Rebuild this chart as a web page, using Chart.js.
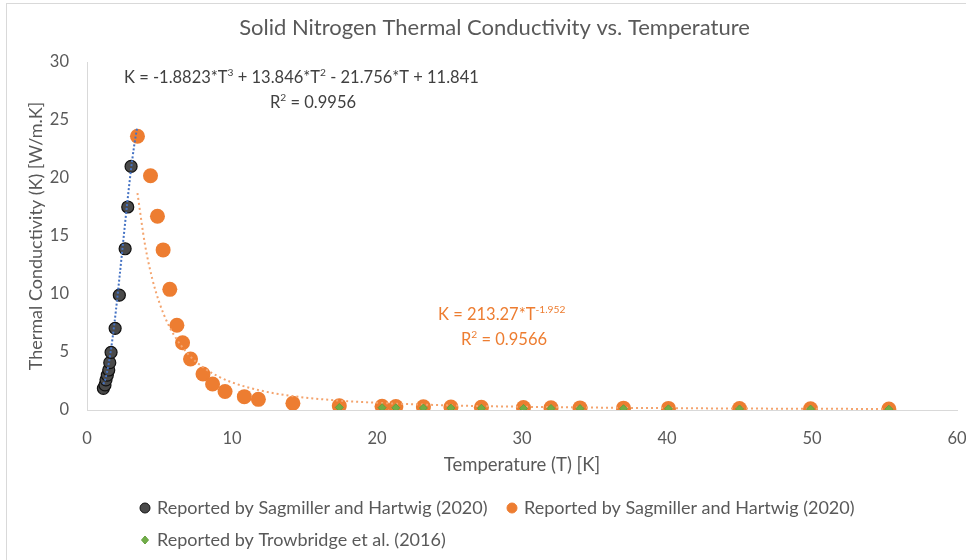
<!DOCTYPE html>
<html lang="en">
<head>
    <meta charset="UTF-8">
    <title>Solid Nitrogen Thermal Conductivity</title>
    <script src="https://cdn.jsdelivr.net/npm/chart.js"></script>
    <style>
        html, body { margin: 0; padding: 0; background: #fff; }
        #box { width: 966px; height: 560px; position: relative; }
    </style>
</head>
<body>
    <div id="box"><canvas id="kChart"></canvas></div>
    <script>
        // Sagmiller and Hartwig (2020), low temperature branch
        const darkT = [1.13, 1.24, 1.31, 1.40, 1.50, 1.57, 1.66, 1.94, 2.23, 2.63, 2.81, 3.04];
        const darkK = [1.87, 2.16, 2.6, 3.0, 3.45, 4.08, 4.97, 7.04, 9.9, 13.9, 17.5, 21.0];

        // Sagmiller and Hartwig (2020), high temperature branch
        const orangeT = [3.48, 4.38, 4.86, 5.25, 5.71, 6.2, 6.59, 7.14, 8.0, 8.66, 9.52, 10.85, 11.82, 14.2,
                         17.4, 20.35, 21.3, 23.2, 25.1, 27.2, 30.1, 32.0, 34.0, 37.0, 40.1, 45.0, 49.9, 55.3];
        const orangeK = [23.6, 20.2, 16.7, 13.8, 10.4, 7.3, 5.8, 4.4, 3.1, 2.24, 1.6, 1.15, 0.92, 0.58,
                         0.36, 0.32, 0.30, 0.27, 0.26, 0.24, 0.21, 0.19, 0.18, 0.16, 0.14, 0.12, 0.11, 0.09];

        // Trowbridge et al. (2016)
        const greenT = [17.4, 20.35, 21.3, 23.2, 25.1, 27.2, 30.1, 32.0, 34.0, 37.0, 40.1, 45.0, 49.9, 55.3];
        const greenK = [0.22, 0.2, 0.19, 0.17, 0.16, 0.15, 0.14, 0.13, 0.12, 0.11, 0.1, 0.09, 0.08, 0.07];

        // trendline curves (polynomial and power fits)
        const polyT = [1.13, 1.25, 1.5, 1.75, 2.0, 2.25, 2.5, 2.75, 3.0, 3.25, 3.46];
        const polyK = [2.22, 2.6, 4.01, 6.08, 8.65, 11.55, 14.58, 17.57, 20.36, 22.76, 24.36];
        const powT = [3.48, 4.0, 4.5, 5.0, 5.5, 6.0, 7.0, 8.0, 9.0, 10.0, 12.0, 14.0, 17.0, 20.0, 25.0, 30.0, 40.0, 55.3];
        const powK = [18.7, 14.25, 11.32, 9.22, 7.65, 6.46, 4.78, 3.68, 2.93, 2.38, 1.67, 1.23, 0.845, 0.62, 0.40, 0.28, 0.16, 0.085];

        const xTicks = [0, 10, 20, 30, 40, 50, 60];
        const yTicks = [0, 5, 10, 15, 20, 25, 30];

        const labels = [
            'Reported by Sagmiller and Hartwig (2020)',
            'Reported by Sagmiller and Hartwig (2020)',
            'Reported by Trowbridge et al. (2016)'
        ];

        const FONT = 'Lato, "Liberation Sans", sans-serif';
        const GREY = '#595959';
        const ORANGE = '#ED7D31';

        const pts = (xs, ys) => xs.map((x, i) => ({ x: x, y: ys[i] }));

        // text with superscript pieces: parts = [[text, isSup], ...]
        function drawRich(ctx, parts, x, y, size, color) {
            ctx.fillStyle = color;
            ctx.textBaseline = 'middle';
            ctx.textAlign = 'left';
            let cx = x;
            parts.forEach(p => {
                const s = p[1] ? size * 0.62 : size;
                ctx.font = s + 'px ' + FONT;
                ctx.fillText(p[0], cx, p[1] ? y - size * 0.3 : y);
                cx += ctx.measureText(p[0]).width;
            });
        }

        const extras = {
            id: 'extras',
            beforeDraw(chart) {
                const ctx = chart.ctx;
                ctx.save();
                ctx.strokeStyle = '#d9d9d9';
                ctx.lineWidth = 1;
                ctx.strokeRect(6.5, 3.5, 1200, 1200);
                ctx.restore();
            },
            afterDraw(chart) {
                const ctx = chart.ctx;
                ctx.save();
                // fit equations
                drawRich(ctx, [['K = -1.8823*T', 0], ['3', 1], [' + 13.846*T', 0], ['2', 1], [' - 21.756*T + 11.841', 0]],
                    124, 78, 16.5, '#404040');
                drawRich(ctx, [['R', 0], ['2', 1], [' = 0.9956', 0]], 270, 103, 16.5, '#404040');
                drawRich(ctx, [['K = 213.27*T', 0], ['-1.952', 1]], 438, 315, 16.5, ORANGE);
                drawRich(ctx, [['R', 0], ['2', 1], [' = 0.9566', 0]], 461, 340, 16.5, ORANGE);

                // legend
                const ds = chart.data.datasets;
                const items = [[ds[0], 145, 508], [ds[1], 512, 508], [ds[2], 145, 540]];
                items.forEach(([d, x, y]) => {
                    ctx.beginPath();
                    if (d.pointStyle === 'rectRot') {
                        ctx.moveTo(x, y - 4); ctx.lineTo(x + 3.5, y); ctx.lineTo(x, y + 4); ctx.lineTo(x - 3.5, y);
                        ctx.closePath();
                    } else {
                        ctx.arc(x, y, 5, 0, Math.PI * 2);
                    }
                    ctx.fillStyle = d.backgroundColor;
                    ctx.fill();
                    ctx.lineWidth = 1;
                    ctx.strokeStyle = d.borderColor;
                    ctx.stroke();
                    ctx.fillStyle = GREY;
                    ctx.font = '18px ' + FONT;
                    ctx.textBaseline = 'middle';
                    ctx.fillText(d.label, x + 12, y);
                });
                ctx.restore();
            }
        };

        new Chart(document.getElementById('kChart'), {
            type: 'scatter',
            data: {
                datasets: [
                    {
                        label: labels[0],
                        data: pts(darkT, darkK),
                        pointStyle: 'circle',
                        pointRadius: 6,
                        backgroundColor: '#4a4a4a',
                        borderColor: '#111',
                        borderWidth: 1.2,
                        order: 2
                    },
                    {
                        label: labels[1],
                        data: pts(orangeT, orangeK),
                        pointStyle: 'circle',
                        pointRadius: 7.5,
                        backgroundColor: ORANGE,
                        borderColor: ORANGE,
                        borderWidth: 0,
                        order: 3
                    },
                    {
                        label: labels[2],
                        data: pts(greenT, greenK),
                        pointStyle: 'rectRot',
                        pointRadius: 4,
                        backgroundColor: '#70AD47',
                        borderColor: '#64a03c',
                        borderWidth: 1,
                        order: 0
                    },
                    {
                        label: 'poly fit',
                        type: 'line',
                        data: pts(polyT, polyK),
                        borderColor: '#4472C4',
                        borderWidth: 2,
                        borderDash: [2, 2],
                        pointRadius: 0,
                        cubicInterpolationMode: 'monotone',
                        order: 1
                    },
                    {
                        label: 'power fit',
                        type: 'line',
                        data: pts(powT, powK),
                        borderColor: '#F4A46E',
                        borderWidth: 2,
                        borderDash: [2, 3],
                        pointRadius: 0,
                        cubicInterpolationMode: 'monotone',
                        order: 1
                    }
                ]
            },
            options: {
                responsive: true,
                maintainAspectRatio: false,
                animation: false,
                events: [],
                layout: { padding: { left: 25, right: 2, top: 0, bottom: 84 } },
                plugins: {
                    legend: { display: false },
                    tooltip: { enabled: false },
                    title: {
                        display: true,
                        text: 'Solid Nitrogen Thermal Conductivity vs. Temperature',
                        color: GREY,
                        font: { family: FONT, size: 22, weight: 'normal' },
                        padding: { top: 15, bottom: 20.6 }
                    }
                },
                scales: {
                    x: {
                        type: 'linear',
                        min: 0,
                        max: 60,
                        afterBuildTicks: s => { s.ticks = xTicks.map(v => ({ value: v })); },
                        afterFit: s => { s.height = 66; s.paddingRight = 9; },
                        grid: { display: false, drawTicks: false },
                        border: { display: true, color: '#d9d9d9', width: 1 },
                        ticks: { color: GREY, padding: 19, font: { family: FONT, size: 16.5 } },
                        title: {
                            display: true,
                            text: 'Temperature (T) [K]',
                            color: GREY,
                            padding: 0,
                            font: { family: FONT, size: 18.5 }
                        }
                    },
                    y: {
                        type: 'linear',
                        min: 0,
                        max: 30,
                        afterBuildTicks: s => { s.ticks = yTicks.map(v => ({ value: v })); },
                        afterFit: s => { s.width = 62; },
                        grid: { display: false, drawTicks: false },
                        border: { display: true, color: '#d9d9d9', width: 1 },
                        ticks: { color: GREY, padding: 18, font: { family: FONT, size: 16.5 } },
                        title: {
                            display: true,
                            text: 'Thermal Conductivity (K) [W/m.K]',
                            color: GREY,
                            padding: 0,
                            font: { family: FONT, size: 18 }
                        }
                    }
                }
            },
            plugins: [extras]
        });
    </script>
</body>
</html>
